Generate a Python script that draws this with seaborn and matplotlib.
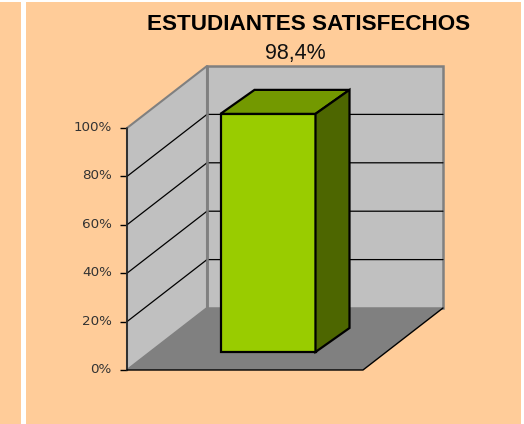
import matplotlib
matplotlib.use('Agg')
import matplotlib.pyplot as plt
import seaborn as sns
from matplotlib.patches import Polygon, Rectangle
from matplotlib.ticker import PercentFormatter
from matplotlib.transforms import ScaledTranslation

# datos
categorias = ['Estudiantes satisfechos']
valores = [98.4]
marcas_y = [0, 20, 40, 60, 80, 100]
titulo = 'ESTUDIANTES SATISFECHOS'
etiqueta = '98,4%'

W, H = 524, 424
PEACH = '#FFCC99'
WALL = '#C0C0C0'
FLOOR = '#808080'

sns.set_theme(style='white')
plt.rcParams['font.family'] = ['Liberation Sans', 'DejaVu Sans']

fig = plt.figure(figsize=(W / 100, H / 100), dpi=100, facecolor='white')

# franjas de fondo (en pixeles)
for x0, x1 in [(0, 21), (26, 521)]:
    fig.patches.append(Rectangle((x0 / W, 0), (x1 - x0) / W, (H - 2) / H, transform=fig.transFigure,
                                 facecolor=PEACH, edgecolor='none', zorder=0))

# plano frontal del grafico
px_x, px_y = 236, 242
ax = fig.add_axes([127 / W, (H - 370) / H, px_x / W, px_y / H], zorder=1)
ax.patch.set_alpha(0)
ax.set_xlim(-0.5, 0.5)
ax.set_ylim(0, 100)
sns.despine(ax=ax, left=True, bottom=True, right=True, top=True)

# profundidad de la caja 3D
dx = 80 / px_x
dy = 62 / (px_y / 100)
L, R = -0.5, 0.5

# paredes y suelo
ax.add_patch(Polygon([(L, 0), (L + dx, dy), (L + dx, 100 + dy), (L, 100)], closed=True,
                     facecolor=WALL, edgecolor=FLOOR, lw=1.5, clip_on=False, zorder=1))
ax.add_patch(Polygon([(L + dx, dy), (R + dx, dy), (R + dx, 100 + dy), (L + dx, 100 + dy)], closed=True,
                     facecolor=WALL, edgecolor=FLOOR, lw=1.8, clip_on=False, zorder=1))
ax.add_patch(Polygon([(L, 0), (R, 0), (R + dx, dy), (L + dx, dy)], closed=True,
                     facecolor=FLOOR, edgecolor='none', clip_on=False, zorder=2))

# lineas de cuadricula
for t in marcas_y[1:-1]:
    ax.plot([L, L + dx, R + dx], [t, t + dy, t + dy], color='black', lw=0.9, clip_on=False, zorder=3)

# la pared del fondo tapa el cruce de las lineas
ax.plot([L + dx, L + dx], [dy, 100 + dy], color=FLOOR, lw=1.8, clip_on=False, zorder=3.5)

# bordes negros del frente
ax.plot([L, L], [0, 100], color='#222222', lw=1.2, clip_on=False, zorder=4)
ax.plot([L, R, R + dx], [0, 0, dy], color='black', lw=1.0, clip_on=False, zorder=4)

ax.set_xticks([])
ax.set_yticks(marcas_y)
ax.yaxis.set_major_formatter(PercentFormatter(100, decimals=0))
ax.tick_params(axis='y', left=True, length=5, width=1, color='black', pad=6, labelsize=9.7, labelcolor='#333333')
subir = ScaledTranslation(0, 2 / 100, fig.dpi_scale_trans)
for lab in ax.get_yticklabels():
    lab.set_family(['DejaVu Sans'])
    lab.set_transform(lab.get_transform() + subir)

# la barra va en un plano desplazado hacia el fondo
shift_x, shift_y = 23, 18
bar_ax = fig.add_axes([(127 + shift_x) / W, (H - 370 + shift_y) / H, px_x / W, px_y / H], zorder=2)
bar_ax.patch.set_alpha(0)
sns.barplot(x=categorias, y=valores, ax=bar_ax, color='#99CC00', saturation=1, width=95 / px_x,
            edgecolor='black', linewidth=1.6, clip_on=False)
bar_ax.set_xlim(-0.5, 0.5)
bar_ax.set_ylim(0, 100)
bar_ax.axis('off')

barra = bar_ax.patches[0]
x0, x1 = barra.get_x(), barra.get_x() + barra.get_width()
top = barra.get_height()
bdx = 34 / px_x
bdy = 24 / (px_y / 100)
bar_ax.add_patch(Polygon([(x0, top), (x1, top), (x1 + bdx, top + bdy), (x0 + bdx, top + bdy)], closed=True,
                         facecolor='#739900', edgecolor='black', lw=1.6, clip_on=False, zorder=3))
bar_ax.add_patch(Polygon([(x1, 0), (x1 + bdx, bdy), (x1 + bdx, top + bdy), (x1, top)], closed=True,
                         facecolor='#4D6600', edgecolor='black', lw=1.6, clip_on=False, zorder=3))

# titulos
fig.text(308.5 / W, (H - 25) / H, titulo, ha='center', va='center', fontsize=16.2, fontweight='bold', color='black')
fig.text(295 / W, (H - 54) / H, etiqueta, ha='center', va='center', fontsize=15.5, color='#111111')

fig.savefig('out.png', dpi=100, facecolor='white')
